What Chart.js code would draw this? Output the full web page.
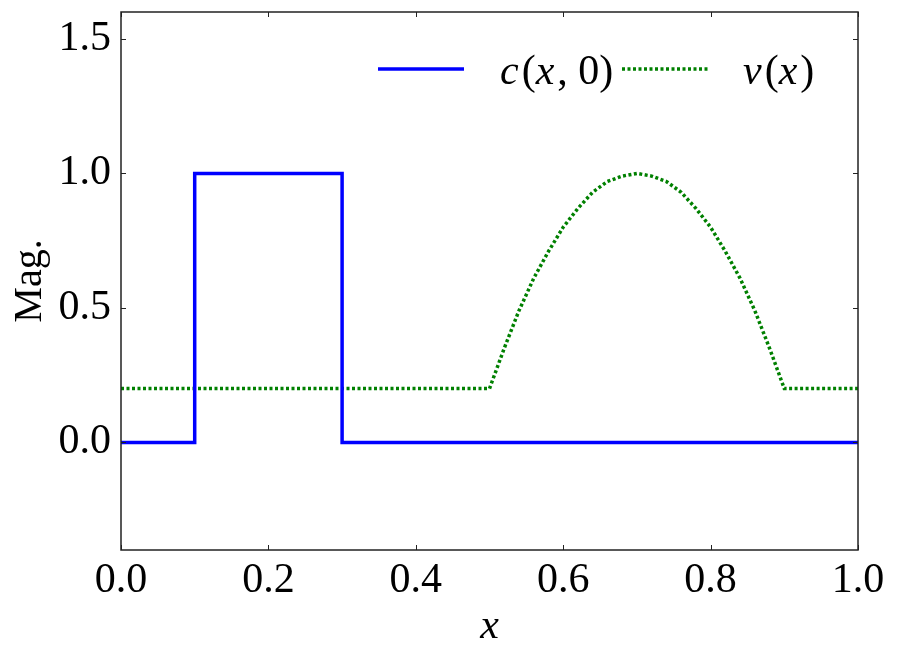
<!DOCTYPE html>
<html lang="en">
<head>
<meta charset="UTF-8">
<style>
  html, body { margin: 0; padding: 0; background: #fff; }
  #wrap { width: 897px; height: 656px; }
</style>
</head>
<body>
<div id="wrap"><canvas id="chart" width="897" height="656"></canvas></div>
<script src="https://cdn.jsdelivr.net/npm/chart.js@4/dist/chart.umd.min.js"></script>
<script>
// c(x,0): box pulse
var cX = [0.0, 0.1, 0.1, 0.3, 0.3, 1.0];
var cY = [0.0, 0.0, 1.0, 1.0, 0.0, 0.0];

// v(x): flat 0.2 with a bump between 0.5 and 0.9
var vX = [0.0, 0.5, 0.52, 0.54, 0.56, 0.58, 0.60, 0.62, 0.64, 0.66, 0.68, 0.70,
          0.72, 0.74, 0.76, 0.78, 0.80, 0.82, 0.84, 0.86, 0.88, 0.90, 1.0];
var vY = [0.2, 0.2, 0.35, 0.49, 0.61, 0.71, 0.80, 0.87, 0.93, 0.97, 0.99, 1.0,
          0.99, 0.97, 0.93, 0.87, 0.80, 0.71, 0.61, 0.49, 0.35, 0.2, 0.2];

var xTicks = [0.0, 0.2, 0.4, 0.6, 0.8, 1.0];
var yTicks = [0.0, 0.5, 1.0, 1.5];

var FONT = "'Times New Roman', 'Liberation Serif', Times, serif";

function pts(xs, ys) {
    var out = [];
    for (var i = 0; i < xs.length; i++) out.push({x: xs[i], y: ys[i]});
    return out;
}

// inward ticks on all four sides + box frame
var frame = {
    id: 'frame',
    afterDraw: function (chart) {
        var ctx = chart.ctx, a = chart.chartArea;
        var xs = chart.scales.x, ys = chart.scales.y;
        var len = 5;
        ctx.save();
        ctx.strokeStyle = '#222';
        ctx.lineWidth = 1;
        ctx.beginPath();
        xTicks.forEach(function (v) {
            var px = Math.round(xs.getPixelForValue(v)) + 0.5;
            ctx.moveTo(px, a.bottom); ctx.lineTo(px, a.bottom - len);
            ctx.moveTo(px, a.top); ctx.lineTo(px, a.top + len);
        });
        yTicks.forEach(function (v) {
            var py = Math.round(ys.getPixelForValue(v)) + 0.5;
            ctx.moveTo(a.left, py); ctx.lineTo(a.left + len, py);
            ctx.moveTo(a.right, py); ctx.lineTo(a.right - len, py);
        });
        ctx.stroke();
        ctx.lineWidth = 1.5;
        ctx.strokeRect(a.left, a.top, a.right - a.left, a.bottom - a.top);
        ctx.restore();
    }
};

// legend with math-style labels
var mathLegend = {
    id: 'mathLegend',
    afterDraw: function (chart) {
        var ctx = chart.ctx;
        var ds = chart.data.datasets;
        var items = [
            {x0: 378, x1: 464, tx: 500, parts: [['c', 1], ['(', 0], ['x', 1], [', 0)', 0]]},
            {x0: 622, x1: 708, tx: 743, parts: [['v', 1], ['(', 0], ['x', 1], [')', 0]]}
        ];
        var ly = 69, ty = 84;
        ctx.save();
        items.forEach(function (it, i) {
            var d = ds[i];
            ctx.strokeStyle = d.borderColor;
            ctx.lineWidth = d.borderWidth;
            ctx.setLineDash(d.borderDash || []);
            ctx.beginPath();
            ctx.moveTo(it.x0, ly); ctx.lineTo(it.x1, ly);
            ctx.stroke();
            ctx.setLineDash([]);
            ctx.fillStyle = '#000';
            ctx.textBaseline = 'alphabetic';
            var x = it.tx;
            it.parts.forEach(function (p) {
                ctx.font = (p[1] ? 'italic ' : '') + '42px ' + FONT;
                ctx.fillText(p[0], x, ty);
                x += ctx.measureText(p[0]).width + (p[1] ? 3 : 0);
            });
        });
        ctx.restore();
    }
};

new Chart(document.getElementById('chart').getContext('2d'), {
    type: 'line',
    data: {
        datasets: [
            {
                label: 'c(x, 0)',
                data: pts(cX, cY),
                borderColor: '#0000ff',
                borderWidth: 3.5,
                pointRadius: 0,
                tension: 0,
                fill: false
            },
            {
                label: 'v(x)',
                data: pts(vX, vY),
                borderColor: '#008000',
                borderWidth: 3.5,
                borderDash: [3, 2.5],
                borderCapStyle: 'butt',
                pointRadius: 0,
                tension: 0,
                fill: false
            }
        ]
    },
    options: {
        responsive: false,
        animation: false,
        layout: { padding: { left: 0, top: 12, right: 39, bottom: 0 } },
        plugins: {
            legend: { display: false },
            tooltip: { enabled: false }
        },
        scales: {
            x: {
                type: 'linear',
                min: 0, max: 1,
                afterBuildTicks: function (s) { s.ticks = xTicks.map(function (v) { return {value: v}; }); },
                afterFit: function (s) { s.height = 106; s.paddingLeft = 0; s.paddingRight = 0; },
                grid: { display: false, drawTicks: false },
                border: { display: false },
                ticks: {
                    color: '#000',
                    padding: 6,
                    maxRotation: 0,
                    font: { family: FONT, size: 42 },
                    callback: function (v) { return Number(v).toFixed(1); }
                },
                title: {
                    display: true,
                    text: 'x',
                    color: '#000',
                    padding: { top: 0, bottom: 4 },
                    font: { family: FONT, size: 42, style: 'italic' }
                }
            },
            y: {
                type: 'linear',
                min: -0.4, max: 1.6,
                afterBuildTicks: function (s) { s.ticks = yTicks.map(function (v) { return {value: v}; }); },
                afterFit: function (s) { s.width = 121; s.paddingTop = 0; s.paddingBottom = 0; },
                grid: { display: false, drawTicks: false },
                border: { display: false },
                ticks: {
                    color: '#000',
                    padding: 10,
                    font: { family: FONT, size: 42 },
                    callback: function (v) { return Number(v).toFixed(1); }
                },
                title: {
                    display: true,
                    text: 'Mag.',
                    color: '#000',
                    padding: { top: 6, bottom: 0 },
                    font: { family: FONT, size: 40 }
                }
            }
        }
    },
    plugins: [frame, mathLegend]
});
</script>
</body>
</html>
